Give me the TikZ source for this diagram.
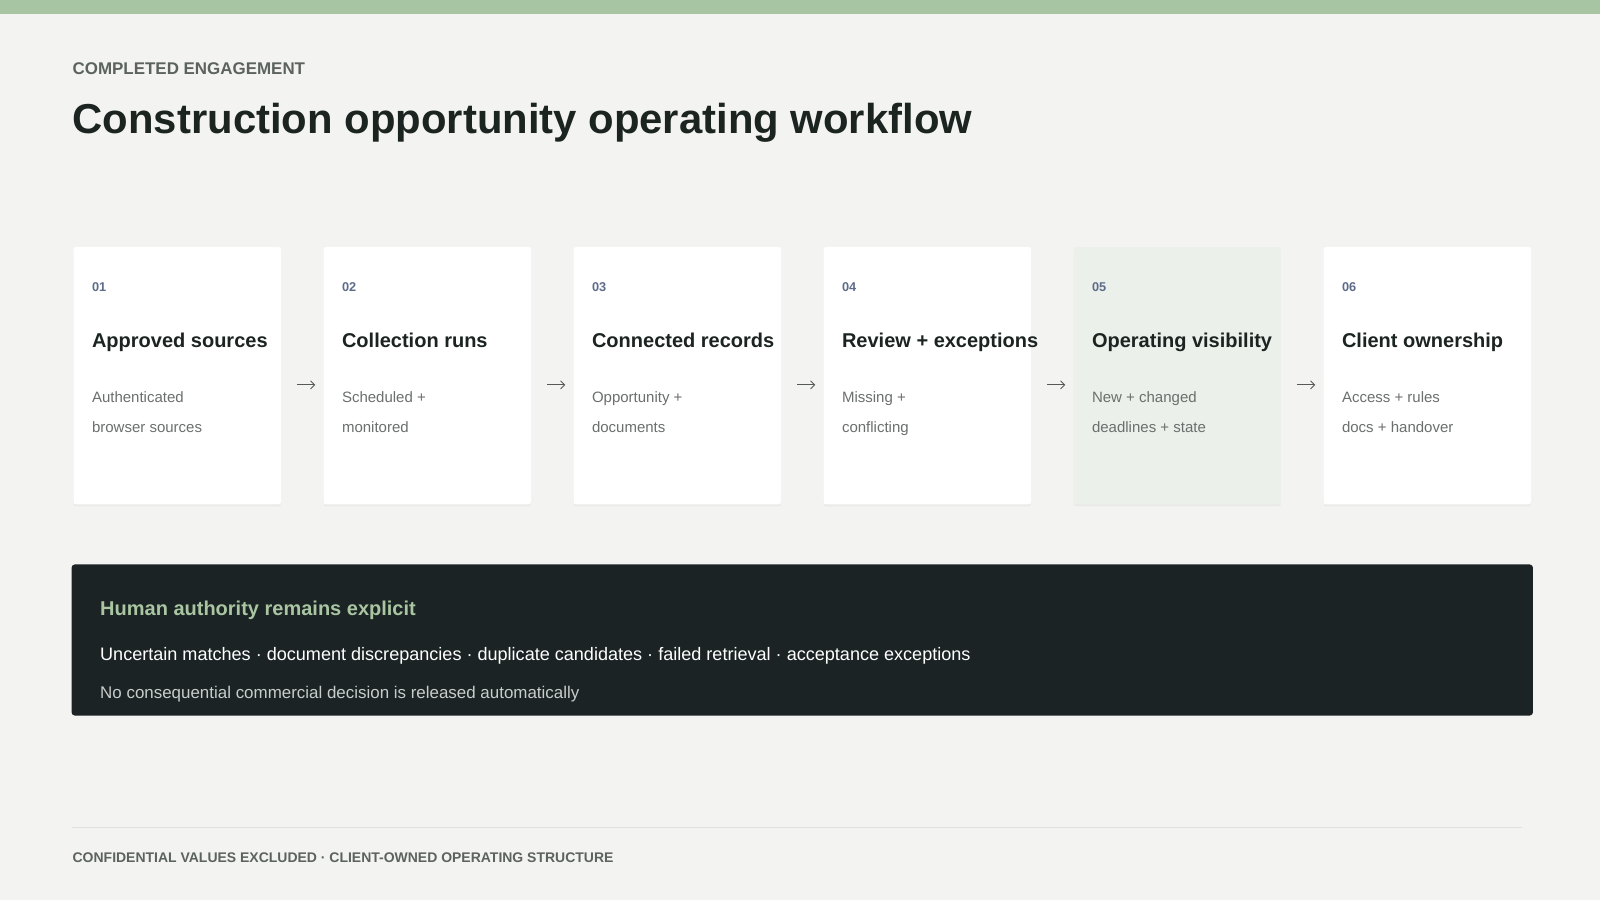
\documentclass[tikz,border=0pt]{standalone}
\usepackage{fontspec}
\setmainfont{Liberation Sans}
\usetikzlibrary{arrows.meta,shadows}
\definecolor{bgc}{HTML}{F3F4F2}
\definecolor{barc}{HTML}{A8C5A3}
\definecolor{inkc}{HTML}{1C2422}
\definecolor{eyec}{HTML}{5B625F}
\definecolor{numc}{HTML}{5E6C8A}
\definecolor{descc}{HTML}{6B6F6D}
\definecolor{arrc}{HTML}{555A58}
\definecolor{card5c}{HTML}{EBF0EA}
\definecolor{darkc}{HTML}{1B2324}
\definecolor{greenc}{HTML}{A9C5A1}
\definecolor{softc}{HTML}{C8CCCB}
\definecolor{rulec}{HTML}{DFE1DF}
\tikzset{
  txt/.style={inner sep=0pt, anchor=base west},
  cardbox/.style={draw=none, rounded corners=2pt, minimum width=203pt, minimum height=252pt, inner sep=0pt,
    drop shadow={opacity=0.07, shadow xshift=0pt, shadow yshift=-2pt}},
  numtxt/.style={txt, font=\fontsize{12.5}{15}\selectfont\bfseries, text=numc},
  titletxt/.style={txt, font=\fontsize{19.6}{24}\selectfont\bfseries, text=inkc},
  desctxt/.style={txt, font=\fontsize{14.7}{18}\selectfont, text=descc},
  flowarrow/.style={draw=arrc, line width=0.9pt, -{Straight Barb[length=4pt,width=8pt]}, shorten <=16pt, shorten >=8pt},
}
\begin{document}
\begin{tikzpicture}[x=1pt,y=-1pt]
\useasboundingbox (0,0) rectangle (1568,882);
\fill[bgc] (0,0) rectangle (1568,882);
\fill[barc] (0,0) rectangle (1568,14);
\node[txt, font=\fontsize{16.6}{19}\selectfont\bfseries, text=eyec] (eyebrow) at (71,73.5) {COMPLETED ENGAGEMENT};
\node[txt, font=\fontsize{41}{49}\selectfont\bfseries, text=inkc] (title) at (71,130.5) {Construction opportunity operating workflow};
\foreach \i/\ttl/\la/\lb/\fc in {
  1/Approved sources/Authenticated/browser sources/white,
  2/Collection runs/Scheduled +/monitored/white,
  3/Connected records/Opportunity +/documents/white,
  4/Review + exceptions/Missing +/conflicting/white,
  5/Operating visibility/New + changed/deadlines + state/card5c,
  6/Client ownership/Access + rules/docs + handover/white}{
  \pgfmathsetmacro{\cx}{72+245*(\i-1)}
  \node[cardbox, fill=\fc, anchor=north west] (c\i) at (\cx,242) {};
  \node[numtxt] (n\i) at (\cx+18,285.5) {0\i};
  \node[titletxt] (t\i) at (\cx+18,341) {\ttl};
  \node[desctxt] (da\i) at (\cx+18,394.3) {\la};
  \node[desctxt] (db\i) at (\cx+18,424.3) {\lb};
}
\foreach \i/\j in {1/2,2/3,3/4,4/5,5/6}{
  \draw[flowarrow] ([yshift=-9pt]c\i.east) -- ([yshift=-9pt]c\j.west);
}
\node[fill=darkc, rounded corners=3pt, anchor=north west, minimum width=1432pt, minimum height=148pt, inner sep=0pt] (dark) at (70,553) {};
\node[txt, font=\fontsize{19.6}{24}\selectfont\bfseries, text=greenc] (dh) at (98,603) {Human authority remains explicit};
\node[txt, font=\fontsize{17.7}{21}\selectfont, text=white] (dl) at (98,647) {Uncertain matches · document discrepancies · duplicate candidates · failed retrieval · acceptance exceptions};
\node[txt, font=\fontsize{16.6}{19}\selectfont, text=softc] (dn) at (98,685) {No consequential commercial decision is released automatically};
\draw[rulec, line width=1.5pt] (71,811) -- (1492,811);
\node[txt, font=\fontsize{13.7}{16}\selectfont\bfseries, text=eyec] (foot) at (71,845) {CONFIDENTIAL VALUES EXCLUDED · CLIENT-OWNED OPERATING STRUCTURE};
\end{tikzpicture}
\end{document}
